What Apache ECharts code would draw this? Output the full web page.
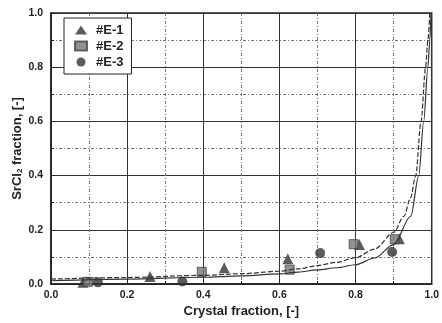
<!DOCTYPE html>
<html>
<head>
<meta charset="utf-8">
<script src="https://cdn.jsdelivr.net/npm/echarts@6/dist/echarts.min.js"></script>
<style>
  html, body { margin: 0; padding: 0; background: #fff; }
  #main { width: 442px; height: 323px; }
</style>
</head>
<body>
<div id="main"></div>
<script>
// 实验点 (Crystal fraction, SrCl2 fraction)
const e1 = [[0.084, 0.006], [0.26, 0.028], [0.455, 0.06], [0.622, 0.093], [0.81, 0.146], [0.915, 0.167]];
const e2 = [[0.097, 0.008], [0.396, 0.045], [0.627, 0.053], [0.795, 0.147], [0.903, 0.165]];
const e3 = [[0.123, 0.006], [0.345, 0.009], [0.707, 0.114], [0.896, 0.118]];

// 计算曲线
const curveDashed = [[0, 0.018], [0.2, 0.024], [0.4, 0.032], [0.5, 0.038], [0.6, 0.047], [0.65, 0.056],
  [0.7, 0.068], [0.75, 0.08], [0.8, 0.097], [0.85, 0.129], [0.9, 0.19], [0.927, 0.25], [0.945, 0.32],
  [0.958, 0.4], [0.972, 0.6], [0.984, 0.8], [0.99, 0.9], [0.995, 1.0]];
const curveSolid = [[0, 0.012], [0.2, 0.018], [0.4, 0.025], [0.5, 0.03], [0.6, 0.037], [0.65, 0.044],
  [0.7, 0.052], [0.75, 0.06], [0.8, 0.071], [0.85, 0.096], [0.9, 0.145], [0.945, 0.25], [0.966, 0.4],
  [0.979, 0.6], [0.99, 0.8], [0.995, 0.9], [0.998, 1.0]];

const myChart = echarts.init(document.getElementById('main'));

const labelFont = { fontFamily: 'Liberation Sans, Arial', fontWeight: 'bold', color: '#222' };

function axisBase() {
  return {
    type: 'value',
    min: 0,
    max: 1,
    interval: 0.2,
    nameMoveOverlap: false,
    axisLine: { show: true, lineStyle: { color: '#222', width: 1.5 } },
    axisTick: { show: true, inside: true, length: 4, lineStyle: { color: '#222' } },
    minorTick: { show: true, splitNumber: 2, length: 3, lineStyle: { color: '#222' } },
    splitLine: { show: true, lineStyle: { color: '#333', width: 1 } },
    minorSplitLine: { show: true, lineStyle: { color: '#777', type: [3, 2, 1, 2], width: 1 } },
    axisLabel: Object.assign({ fontSize: 10.5, formatter: v => v.toFixed(1) }, labelFont)
  };
}

const xAxis = axisBase();
xAxis.name = 'Crystal fraction, [-]';
xAxis.nameLocation = 'middle';
xAxis.nameGap = 21;
xAxis.nameTextStyle = Object.assign({ fontSize: 13 }, labelFont);
xAxis.axisLabel.margin = 6;

const yAxis = axisBase();
yAxis.name = '{a|SrCl}{s|2}{a| fraction, [-]}';
yAxis.nameLocation = 'middle';
yAxis.nameGap = 27;
yAxis.nameTextStyle = {
  rich: {
    a: Object.assign({ fontSize: 13 }, labelFont),
    s: Object.assign({ fontSize: 8, verticalAlign: 'bottom', padding: [6, 0, 0, 0] }, labelFont)
  }
};
yAxis.axisLabel.margin = 8;

const option = {
  animation: false,
  backgroundColor: '#fff',
  grid: { left: 51, right: 8, top: 13, bottom: 39, show: true, borderColor: '#222', borderWidth: 1.5 },
  legend: {
    orient: 'vertical',
    left: 64,
    top: 18,
    padding: [5, 8, 5, 10],
    itemGap: 2,
    itemWidth: 12,
    itemHeight: 9,
    borderColor: '#222',
    borderWidth: 1,
    backgroundColor: '#fff',
    textStyle: Object.assign({ fontSize: 13, padding: [0, 0, 0, 4], lineHeight: 14 }, labelFont),
    data: ['#E-1', '#E-2', '#E-3']
  },
  xAxis: xAxis,
  yAxis: yAxis,
  series: [
    {
      name: 'dashed', type: 'line', data: curveDashed, showSymbol: false, smooth: 0.3, smoothMonotone: 'x',
      lineStyle: { color: '#333', width: 1.2, type: [5, 2] }
    },
    {
      name: 'solid', type: 'line', data: curveSolid, showSymbol: false, smooth: 0.3, smoothMonotone: 'x',
      lineStyle: { color: '#333', width: 1.2 }
    },
    {
      name: '#E-1', type: 'scatter', data: e1, symbol: 'triangle', symbolSize: 11,
      itemStyle: { color: '#333' }
    },
    {
      name: '#E-2', type: 'scatter', data: e2, symbol: 'rect', symbolSize: 9,
      itemStyle: { color: '#777', borderColor: '#444', borderWidth: 1 }
    },
    {
      name: '#E-3', type: 'scatter', data: e3, symbol: 'circle', symbolSize: 10,
      itemStyle: { color: '#333' }
    }
  ]
};

myChart.setOption(option);
</script>
</body>
</html>
